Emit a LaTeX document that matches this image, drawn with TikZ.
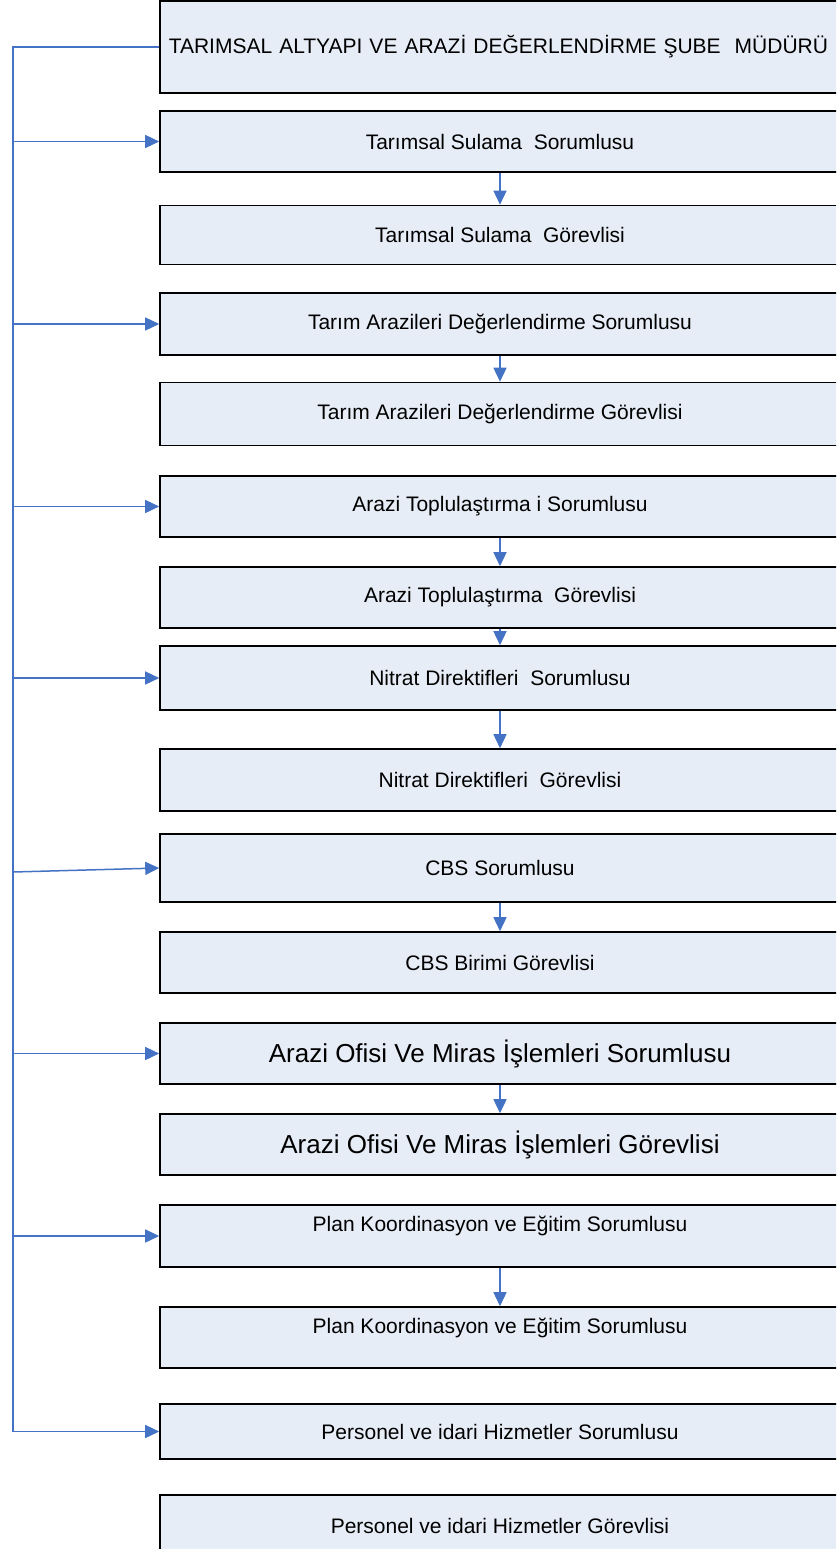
\documentclass[tikz,border=0pt]{standalone}
\usepackage{fontspec}
\setmainfont{Liberation Sans}
\usetikzlibrary{arrows.meta}
\definecolor{boxfill}{RGB}{231,237,247}
\definecolor{linkblue}{RGB}{68,114,196}
\tikzset{
  unitbox/.style={draw=black,line width=1.6pt,fill=boxfill,minimum width=680pt,minimum height=62pt,inner sep=0pt,font=\fontsize{21}{25}\selectfont},
  bigtext/.style={font=\fontsize{26}{31}\selectfont},
  hightext/.style={text height=15pt,text depth=24pt},
  link/.style={draw=linkblue,line width=1.5pt,-{Triangle[length=14pt,width=13pt,fill=linkblue]}}
}
\begin{document}
\begin{tikzpicture}[x=1pt,y=-1pt]
\clip (0,0) rectangle (836,1549);

\node[unitbox,anchor=west,minimum height=92pt,text width=672pt,inner xsep=9pt,align=left] (b1) at (159,47) {TARIMSAL ALTYAPI VE ARAZİ DEĞERLENDİRME ŞUBE~~MÜDÜRÜ};
\node[unitbox,minimum height=61pt] (b2) at (500,141.5) {Tarımsal Sulama~~Sorumlusu};
\node[unitbox,minimum height=59pt] (b3) at (500,235) {Tarımsal Sulama~~Görevlisi};
\node[unitbox] (b4) at (500,324) {Tarım Arazileri Değerlendirme Sorumlusu};
\node[unitbox,minimum height=63pt] (b5) at (500,414) {Tarım Arazileri Değerlendirme Görevlisi};
\node[unitbox,minimum height=61pt] (b6) at (500,506.5) {Arazi Toplulaştırma i Sorumlusu};
\node[unitbox,minimum height=61pt] (b7) at (500,597.5) {Arazi Toplulaştırma~~Görevlisi};
\node[unitbox,minimum height=64pt] (b8) at (500,678) {Nitrat Direktifleri~~Sorumlusu};
\node[unitbox] (b9) at (500,780) {Nitrat Direktifleri~~Görevlisi};
\node[unitbox,minimum height=68pt] (b10) at (500,868) {CBS Sorumlusu};
\node[unitbox,minimum height=61pt] (b11) at (500,962.5) {CBS Birimi Görevlisi};
\node[unitbox,bigtext,minimum height=61pt] (b12) at (500,1053.5) {Arazi Ofisi Ve Miras İşlemleri Sorumlusu};
\node[unitbox,bigtext,minimum height=61pt] (b13) at (500,1144.5) {Arazi Ofisi Ve Miras İşlemleri Görevlisi};
\node[unitbox,hightext] (b14) at (500,1236) {Plan Koordinasyon ve Eğitim Sorumlusu};
\node[unitbox,hightext,minimum height=61pt] (b15) at (500,1337.5) {Plan Koordinasyon ve Eğitim Sorumlusu};
\node[unitbox,minimum height=55pt] (b16) at (500,1431.5) {Personel ve idari Hizmetler Sorumlusu};
\node[unitbox,minimum height=61pt] (b17) at (500,1525.5) {Personel ve idari Hizmetler Görevlisi};

\draw[link] (b2) -- (b3);
\draw[link] (b4) -- (b5);
\draw[link] (b6) -- (b7);
\draw[link] (b7) -- (b8);
\draw[link] (b8) -- (b9);
\draw[link] (b10) -- (b11);
\draw[link] (b12) -- (b13);
\draw[link] (b14) -- (b15);

\coordinate (top) at (13,47);
\coordinate (cbsfoot) at (13,872);
\draw[link] (b1.west) -- (top) |- (b16.west);
\foreach \s in {b2,b4,b6,b8,b12,b14}
  \draw[link] (top |- \s.west) -- (\s.west);
\draw[link] (cbsfoot) -- (b10.west);

\end{tikzpicture}
\end{document}
